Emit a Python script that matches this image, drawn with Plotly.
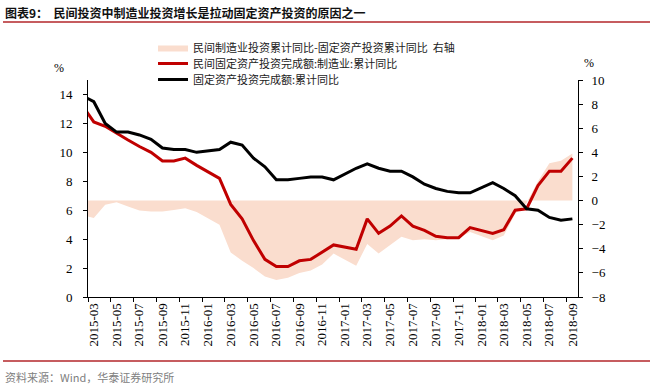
import plotly.graph_objects as go

# ---------------- data ----------------
months = [
    "2015-02", "2015-03", "2015-04", "2015-05", "2015-06", "2015-07", "2015-08",
    "2015-09", "2015-10", "2015-11", "2015-12",
    "2016-02", "2016-03", "2016-04", "2016-05", "2016-06", "2016-07", "2016-08",
    "2016-09", "2016-10", "2016-11", "2016-12",
    "2017-02", "2017-03", "2017-04", "2017-05", "2017-06", "2017-07", "2017-08",
    "2017-09", "2017-10", "2017-11", "2017-12",
    "2018-02", "2018-03", "2018-04", "2018-05", "2018-06", "2018-07", "2018-08",
    "2018-09",
]

# 固定资产投资完成额:累计同比 (left axis, %)
fai_total = [
    13.9, 13.5, 12.0, 11.4, 11.4, 11.2, 10.9, 10.3, 10.2, 10.2, 10.0,
    10.2, 10.7, 10.5, 9.6, 9.0, 8.1, 8.1, 8.2, 8.3, 8.3, 8.1,
    8.9, 9.2, 8.9, 8.7, 8.7, 8.3, 7.8, 7.5, 7.3, 7.2, 7.2,
    7.9, 7.5, 7.0, 6.1, 6.0, 5.5, 5.3, 5.4,
]

# 民间固定资产投资完成额:制造业:累计同比 (left axis, %)
private_mfg = [
    13.2, 12.1, 11.8, 11.3, 10.85, 10.4, 10.0, 9.4, 9.4, 9.6, 9.1,
    8.2, 6.4, 5.4, 3.9, 2.6, 2.1, 2.1, 2.5, 2.6, 3.1, 3.6,
    3.3, 5.4, 4.4, 4.9, 5.6, 4.9, 4.6, 4.2, 4.1, 4.1, 4.8,
    4.4, 4.65, 6.0, 6.1, 7.7, 8.7, 8.7, 9.6,
]

# 民间制造业投资累计同比-固定资产投资累计同比 (right axis, %)
spread = [
    -1.2, -1.45, -0.35, -0.15, -0.5, -0.82, -0.9, -0.9, -0.78, -0.64, -0.95,
    -2.0, -4.3, -5.0, -5.6, -6.3, -6.6, -6.4, -6.0, -5.8, -5.3, -4.4,
    -5.4, -3.6, -4.4, -3.7, -3.0, -3.3, -3.2, -3.3, -3.2, -3.1, -2.6,
    -3.3, -2.9, -1.1, -0.2, 1.6, 3.1, 3.3, 3.9,
]

names = [
    "民间制造业投资累计同比-固定资产投资累计同比  右轴",
    "民间固定资产投资完成额:制造业:累计同比",
    "固定资产投资完成额:累计同比",
]

title_text = "<b>图表9：  民间投资中制造业投资增长是拉动固定资产投资的原因之一</b>"
source_text = "资料来源：Wind，华泰证券研究所"

# ---------------- figure ----------------
CJK = "Noto Sans CJK SC"
SERIF = "Liberation Serif"

fig = go.Figure()

# spread area on the base axis (drawn first, underneath)
fig.add_trace(go.Scatter(
    x=months, y=spread, name=names[0], yaxis="y", legend="legend",
    mode="lines", fill="tozeroy", fillcolor="rgb(250,221,206)",
    line=dict(width=0, color="rgb(250,221,206)"),
    xperiod="M1", xperiodalignment="middle",
))
# lines on the overlaying (left-side) axis, drawn on top
fig.add_trace(go.Scatter(
    x=months, y=private_mfg, name=names[1], yaxis="y2", legend="legend2",
    mode="lines", line=dict(color="#C00000", width=3),
    xperiod="M1", xperiodalignment="middle",
))
fig.add_trace(go.Scatter(
    x=months, y=fai_total, name=names[2], yaxis="y2", legend="legend3",
    mode="lines", line=dict(color="#000000", width=3),
    xperiod="M1", xperiodalignment="middle",
))

leg_common = dict(x=0.1327, xanchor="left", yanchor="top",
                  bgcolor="rgba(0,0,0,0)",
                  font=dict(family=CJK, size=11, color="#222"))

fig.update_layout(
    width=653, height=386, autosize=False,
    margin=dict(l=88, r=75, t=80, b=89, pad=0),
    paper_bgcolor="white", plot_bgcolor="white",
    font=dict(family=SERIF, size=12, color="black"),
    showlegend=True,
    legend=dict(y=1.2166, **leg_common),
    legend2=dict(y=1.1429, **leg_common),
    legend3=dict(y=1.069, **leg_common),
    xaxis=dict(
        type="date",
        range=["2015-03-01", "2018-10-01"],
        tick0="2015-03-16", dtick="M2", tickformat="%Y-%m",
        tickangle=-90, ticks="", showgrid=False, zeroline=False,
        showline=True, linecolor="black", linewidth=1,
        tickfont=dict(family=SERIF, size=13, color="black"),
        minor=dict(ticks="outside", tick0="2015-03-01", dtick="M2",
                   ticklen=4, tickcolor="black", tickwidth=1, showgrid=False),
    ),
    yaxis=dict(
        range=[-8, 10], tick0=-8, dtick=2, ticks="outside", ticklen=4,
        tickcolor="black", showline=True, linecolor="black", linewidth=1,
        showgrid=False, zeroline=False, side="right",
        ticklabelstandoff=6,
        tickfont=dict(family=SERIF, size=13, color="black"),
    ),
    yaxis2=dict(
        range=[0, 15], tick0=0, dtick=2, ticks="outside", ticklen=4,
        tickcolor="black", showline=True, linecolor="black", linewidth=1,
        showgrid=False, zeroline=False, overlaying="y", side="left",
        ticklabelstandoff=8,
        tickfont=dict(family=SERIF, size=13, color="black"),
    ),
)

# units above the axes
fig.add_annotation(text="%", xref="paper", yref="paper", x=-0.045, y=1.014,
                   xanchor="right", yanchor="bottom", showarrow=False,
                   font=dict(family=SERIF, size=12, color="black"))
fig.add_annotation(text="%", xref="paper", yref="paper", x=1.008, y=1.037,
                   xanchor="left", yanchor="bottom", showarrow=False,
                   font=dict(family=SERIF, size=12, color="black"))

# title and source
fig.add_annotation(text=title_text, xref="paper", yref="paper",
                   x=-0.1735, y=1.313, xanchor="left", yanchor="middle",
                   showarrow=False, font=dict(family=CJK, size=12, color="#111"))
fig.add_annotation(text=source_text, xref="paper", yref="paper",
                   x=-0.1735, y=-0.368, xanchor="left", yanchor="middle",
                   showarrow=False, font=dict(family=CJK, size=11, color="#808080"))

line_col = "#B3262A"
fig.add_shape(type="line", xref="paper", yref="paper",
              x0=-0.1735, x1=1.147, y0=1.2673, y1=1.2673,
              line=dict(color=line_col, width=1.5))
fig.add_shape(type="line", xref="paper", yref="paper",
              x0=-0.1735, x1=1.147, y0=-0.2949, y1=-0.2949,
              line=dict(color=line_col, width=1.5))

fig.write_html("out.html",
               config={"displayModeBar": False},
               post_script="document.body.style.margin='0';"
                           "document.body.style.overflow='hidden';")
